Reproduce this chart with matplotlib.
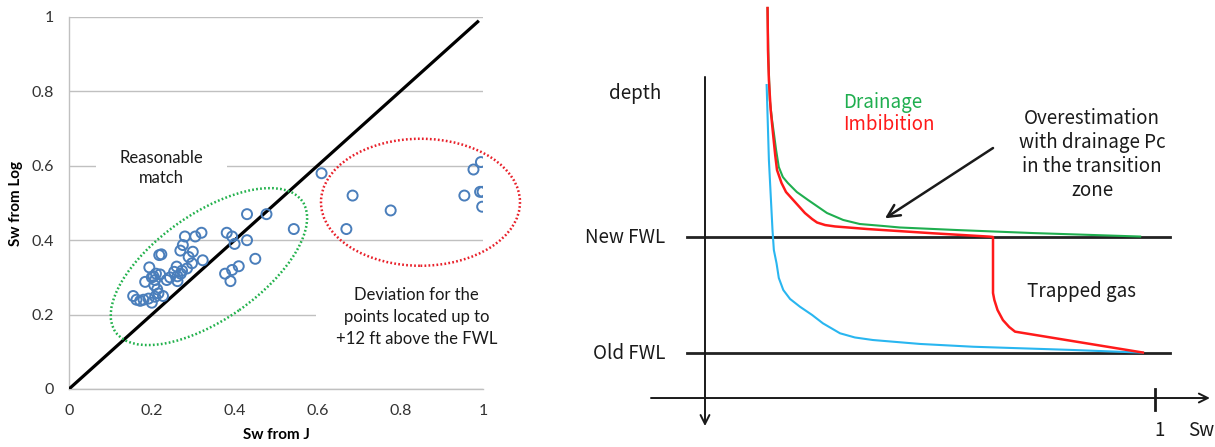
import matplotlib
matplotlib.use("Agg")
import matplotlib.pyplot as plt
from matplotlib.patches import Ellipse
from matplotlib.transforms import Affine2D, ScaledTranslation

# ---------------- Left panel: Sw from J-function vs Sw from log ----------------
sw_from_j = [
    0.155, 0.163, 0.172, 0.180, 0.192, 0.200, 0.208, 0.227,
    0.184, 0.194, 0.204, 0.208, 0.206, 0.213, 0.216, 0.220, 0.200, 0.210,
    0.218, 0.223, 0.244, 0.254, 0.260, 0.262, 0.270, 0.273, 0.285, 0.297,
    0.289, 0.323, 0.299, 0.269, 0.275, 0.280, 0.305, 0.320, 0.236, 0.262,
    0.381, 0.394, 0.400, 0.430, 0.377, 0.394, 0.410, 0.390, 0.450, 0.430,
    0.477, 0.543,
    0.610, 0.685, 0.670, 0.777, 0.955, 0.977, 0.995, 0.993, 0.999, 0.998,
]
sw_from_log = [
    0.250, 0.240, 0.237, 0.240, 0.243, 0.232, 0.248, 0.250,
    0.288, 0.327, 0.303, 0.293, 0.279, 0.268, 0.257, 0.308, 0.300, 0.310,
    0.360, 0.362, 0.300, 0.315, 0.329, 0.303, 0.310, 0.318, 0.324, 0.338,
    0.355, 0.346, 0.369, 0.372, 0.387, 0.410, 0.410, 0.420, 0.293, 0.290,
    0.420, 0.410, 0.390, 0.400, 0.310, 0.320, 0.330, 0.290, 0.350, 0.470,
    0.470, 0.430,
    0.580, 0.520, 0.430, 0.480, 0.520, 0.590, 0.610, 0.530, 0.530, 0.490,
]
unit_line = [0.0, 0.99]
tick_values = [0, 0.2, 0.4, 0.6, 0.8, 1]
tick_labels = ["0", "0.2", "0.4", "0.6", "0.8", "1"]

# ---------------- Right panel: capillary-pressure saturation profiles ----------------
# x = Sw, y = height above the old free water level (new FWL at 1)
drain_sw = [0.139, 0.141, 0.144, 0.149, 0.153, 0.158, 0.164, 0.173, 0.184, 0.204,
            0.229, 0.271, 0.307, 0.344, 0.396, 0.433, 0.560, 0.729, 0.967]
drain_h = [2.974, 2.526, 2.181, 2.009, 1.897, 1.750, 1.603, 1.517, 1.466, 1.388,
           1.319, 1.207, 1.147, 1.112, 1.095, 1.082, 1.060, 1.034, 1.004]
imb_sw = [0.139, 0.140, 0.142, 0.146, 0.151, 0.156, 0.160, 0.170, 0.180, 0.196,
          0.222, 0.238, 0.249, 0.267, 0.289, 0.360, 0.507, 0.633, 0.640,
          0.640, 0.643, 0.650, 0.662, 0.676, 0.689, 0.973]
imb_h = [2.974, 2.612, 2.353, 2.095, 1.897, 1.707, 1.578, 1.466, 1.388, 1.319,
         1.207, 1.155, 1.125, 1.103, 1.091, 1.069, 1.032, 1.003, 1.000,
         0.517, 0.457, 0.371, 0.284, 0.224, 0.184, 0.004]
old_sw = [0.137, 0.142, 0.150, 0.153, 0.159, 0.164, 0.174, 0.189, 0.211, 0.238,
          0.262, 0.300, 0.333, 0.373, 0.478, 0.596, 0.818, 0.973]
old_h = [2.310, 1.664, 1.060, 0.888, 0.773, 0.647, 0.543, 0.466, 0.399, 0.328,
         0.256, 0.170, 0.134, 0.112, 0.078, 0.054, 0.026, 0.003]
fwl_levels = {"New FWL": 1.0, "Old FWL": 0.0}
fwl_span = [-0.04, 1.033]

GREEN = "#1fae4f"
RED = "#ff1a1a"
CYAN = "#29b6f0"
BLUE = "#4a7ebb"
INK = "#1a1a1a"

fig = plt.figure(figsize=(12.15, 4.47), dpi=100)

# ---------- left axes ----------
ax = fig.add_axes([69 / 1215, 1 - 389 / 447, 414 / 1215, 372 / 447])
ax.set_xlim(0, 1)
ax.set_ylim(0, 1)
ax.set_xticks(tick_values)
ax.set_yticks(tick_values)
ax.set_xticklabels(tick_labels, family="Lato", fontsize=11.5, color="#333333")
ax.set_yticklabels(tick_labels, family="Lato", fontsize=11.5, color="#333333")
ax.tick_params(length=0, pad=11)
ax.yaxis.grid(True, color="#c0c0c0", lw=1.0, zorder=0)
ax.set_axisbelow(True)
for side in ("top", "right"):
    ax.spines[side].set_visible(False)
for side in ("left", "bottom"):
    ax.spines[side].set_color("#c0c0c0")
    ax.spines[side].set_linewidth(1.0)

ax.set_xlabel("Sw from J", family="Lato", fontweight="bold", fontsize=11)
ax.set_ylabel("Sw from Log", family="Lato", fontweight="bold", fontsize=11)
ax.xaxis.set_label_coords(0.5, -0.105)
ax.yaxis.set_label_coords(-0.11, 0.5)

ax.plot(unit_line, unit_line, color="black", lw=2.3, zorder=3, solid_capstyle="butt")
ax.scatter(sw_from_j, sw_from_log, s=52, facecolors="none", edgecolors=BLUE,
           linewidths=1.4, zorder=4)

ax.text(0.223, 0.594, "Reasonable\nmatch", ha="center", va="center",
        family="Lato", fontsize=12, color=INK, linespacing=1.35, zorder=2,
        bbox=dict(boxstyle="square,pad=1.4", fc="white", ec="none"))
ax.text(0.839, 0.194, "Deviation for the\npoints located up to\n+12 ft above the FWL",
        ha="center", va="center", family="Lato", fontsize=12, color=INK,
        linespacing=1.45, zorder=2, clip_on=False,
        bbox=dict(boxstyle="square,pad=1.2", fc="white", ec="none"))


def dotted_ellipse(axis, center, semi_px, angle, color):
    """Dotted ellipse centred on a data point, sized in screen pixels."""
    tr = Affine2D().scale(fig.dpi / 100.0) + ScaledTranslation(center[0], center[1], axis.transData)
    e = Ellipse((0, 0), 2 * semi_px[0], 2 * semi_px[1], angle=angle, fill=False,
                ec=color, lw=1.8, ls=(0, (0.7, 0.9)), transform=tr, clip_on=False, zorder=5)
    axis.add_patch(e)


dotted_ellipse(ax, (0.338, 0.329), (114, 53), 35, "#22b14c")
dotted_ellipse(ax, (0.849, 0.502), (99.5, 63.5), 0, "#e8202a")

# ---------- right axes ----------
bx = fig.add_axes([560 / 1215, 0, 655 / 1215, 1])
bx.set_xlim(-0.3222, 1.1333)
bx.set_ylim(-0.8103, 3.0431)
bx.axis("off")

font_r = dict(family=["Noto Sans CJK KR", "DejaVu Sans"], fontsize=13.5)

# coordinate arrows
bx.annotate("", xy=(0, -0.63), xytext=(0, 2.38),
            arrowprops=dict(arrowstyle="->", lw=1.4, color=INK, shrinkA=0, shrinkB=0,
                            mutation_scale=16))
bx.annotate("", xy=(1.122, -0.388), xytext=(-0.12, -0.388),
            arrowprops=dict(arrowstyle="->", lw=1.4, color=INK, shrinkA=0, shrinkB=0,
                            mutation_scale=16))
bx.plot([1, 1], [-0.31, -0.49], color=INK, lw=2.0)

for name, level in fwl_levels.items():
    bx.plot(fwl_span, [level, level], color="#222222", lw=2.0, zorder=2)
    bx.text(-0.089, level, name, ha="right", va="center", color=INK, **font_r)

bx.plot(old_sw, old_h, color=CYAN, lw=1.5, zorder=3)
bx.plot(drain_sw, drain_h, color=GREEN, lw=1.5, zorder=3)
bx.plot(imb_sw, imb_h, color=RED, lw=1.8, zorder=4)

bx.text(-0.156, 2.241, "depth", ha="center", va="center", color=INK, **font_r)
bx.text(1.011, -0.672, "1", ha="center", va="center", color=INK, **font_r)
bx.text(1.102, -0.672, "Sw", ha="center", va="center", color=INK, **font_r)
bx.text(0.307, 2.158, "Drainage", ha="left", va="center", color=GREEN, **font_r)
bx.text(0.307, 1.966, "Imbibition", ha="left", va="center", color=RED, **font_r)
bx.text(0.86, 1.71, "Overestimation\nwith drainage Pc\nin the transition\nzone",
        ha="center", va="center", color=INK, linespacing=1.2, **font_r)
bx.text(0.836, 0.528, "Trapped gas", ha="center", va="center", color=INK, **font_r)
bx.annotate("", xy=(0.40, 1.161), xytext=(0.64, 1.767),
            arrowprops=dict(arrowstyle="->", lw=1.8, color=INK, shrinkA=0, shrinkB=0,
                            mutation_scale=22))

fig.savefig("out.png", dpi=100)
